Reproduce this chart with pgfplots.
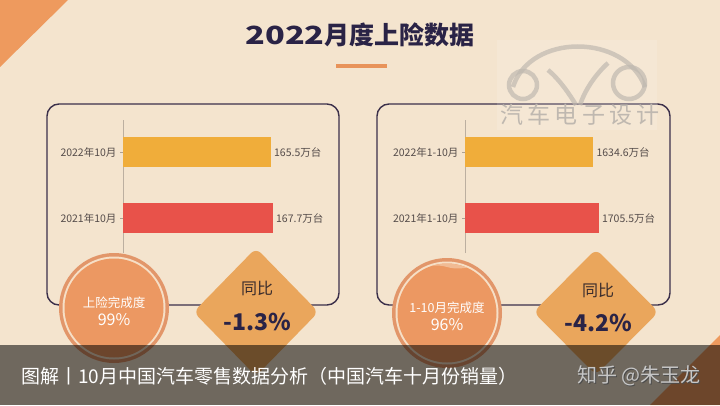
\documentclass[border=0pt]{standalone}
\usepackage{fontspec}
\usepackage{pgfplots}
\pgfplotsset{compat=1.18}
\usepackage{graphicx}
\setmainfont{Noto Sans CJK SC}
\newfontfamily\cjk{Noto Sans CJK SC}
\newfontfamily\cjkwm[LetterSpace=18]{Noto Sans CJK SC}
\definecolor{bg}{HTML}{F4E4CE}
\definecolor{tri}{HTML}{EE9A5E}
\definecolor{navy}{HTML}{2A2346}
\definecolor{frame}{HTML}{3B2F4A}
\definecolor{uline}{HTML}{E8935A}
\definecolor{barY}{HTML}{F0AD3A}
\definecolor{barR}{HTML}{E8524A}
\definecolor{lab}{HTML}{554C4A}
\definecolor{diam}{HTML}{EAA65C}
\definecolor{circ}{HTML}{EC9862}
\definecolor{ring}{HTML}{E2966A}
\definecolor{cream}{HTML}{F6DFC6}
\definecolor{wm}{HTML}{BFB8B0}
\definecolor{brown}{HTML}{3A2C2C}
\pgfplotsset{
  hbars/.style={
    xbar, scale only axis, height=133pt,
    ymin=0.47, ymax=2.485, xmin=0,
    axis x line=none, axis y line*=left,
    y axis line style={draw=lab!35!bg, line width=0.8pt},
    xtick=\empty, ytick={1,2},
    ytick style={draw=lab!45!bg, line width=0.6pt},
    major tick length=3pt, tick align=outside,
    yticklabel style={font=\cjk\fontsize{10.5}{12}\selectfont, text=lab},
    bar width=30pt, bar shift=0pt, clip=false,
    nodes near coords={\pgfmathprintnumber{\pgfplotspointmeta}万台},
    nodes near coords style={font=\cjk\fontsize{10.5}{12}\selectfont, text=lab, anchor=west, xshift=1pt, inner sep=2pt},
    /pgf/number format/.cd, fixed, fixed zerofill, precision=1, 1000 sep={}, assume math mode=true
  }
}
\begin{document}
\begin{tikzpicture}[x=1pt,y=1pt]
\useasboundingbox (0,0) rectangle (720,405);
\fill[bg] (0,0) rectangle (720,405);
\fill[tri] (0,405) -- (68,405) -- (0,338) -- cycle;
\fill[tri] (650,0) -- (720,0) -- (720,70) -- cycle;
% title
\node[font=\cjk\bfseries\fontsize{25}{28}\selectfont, text=navy] at (360,370) {\scalebox{1.3}[1]{2022}月度上险数据};
\fill[uline] (336,336.5) rectangle (387,340.5);
% panels
\draw[frame, line width=1.4pt, rounded corners=12pt] (47,100) rectangle (339,301);
\draw[frame, line width=1.4pt, rounded corners=12pt] (377,100) rectangle (670,301);
% left chart
\begin{axis}[hbars, at={(123pt,152pt)}, anchor=south west, width=178.8pt, xmax=200,
  yticklabels={2021年10月,2022年10月}]
\addplot[fill=barY, draw=none] coordinates {(165.5,2)};
\addplot[fill=barR, draw=none] coordinates {(167.7,1)};
\end{axis}
% right chart
\begin{axis}[hbars, at={(465pt,152pt)}, anchor=south west, width=157pt, xmax=2000,
  yticklabels={2021年1-10月,2022年1-10月}]
\addplot[fill=barY, draw=none] coordinates {(1634.6,2)};
\addplot[fill=barR, draw=none] coordinates {(1705.5,1)};
\end{axis}
% watermark
\fill[white, opacity=0.14] (497,275) rectangle (657,365);
\begin{scope}[wm, line width=4.5pt, opacity=0.7]
\draw (513,318) .. controls (530,372) and (625,372) .. (645,318);
\draw (523,320) circle (14);
\draw (629,322) circle (16);
\draw (548,335) .. controls (560,325) and (570,310) .. (576,300);
\draw (608,342) .. controls (595,330) and (585,315) .. (580,300);
\end{scope}
\node[font=\cjkwm\fontsize{23}{26}\selectfont, text=wm] at (580,290) {汽车电子设计};
% left circle
\fill[ring] (114,97) circle (55);
\fill[cream] (114,97) circle (51.5);
\fill[circ] (114,97) circle (49.5);
\node[font=\cjk\fontsize{12.5}{14}\selectfont, text=white] at (114,102) {上险完成度};
\node[font=\cjk\fontsize{16}{18}\selectfont, text=white] at (114,85) {99\%};
% right circle
\fill[ring] (447,92) circle (55);
\fill[cream] (447,92) circle (51.5);
\fill[circ] (447,92) circle (49.5);
\begin{scope}
\clip (447,92) circle (49.5);
\fill[cream!50!circ] (397,138) .. controls (415,133) and (430,143) .. (447,138) .. controls (464,133) and (479,143) .. (497,138) -- (497,150) -- (397,150) -- cycle;
\end{scope}
\node[font=\cjk\fontsize{12.5}{14}\selectfont, text=white] at (447,97) {1-10月完成度};
\node[font=\cjk\fontsize{16}{18}\selectfont, text=white] at (447,80) {96\%};
% diamonds
\fill[diam, rounded corners=7pt] (256,157) -- (318.5,93) -- (256,29) -- (193.5,93) -- cycle;
\fill[diam, rounded corners=7pt] (596,156) -- (658.5,93) -- (596,30) -- (533.5,93) -- cycle;
\node[font=\cjk\fontsize{16}{18}\selectfont, text=brown] at (257,117) {同比};
\node[font=\cjk\bfseries\fontsize{23}{26}\selectfont, text=navy] at (257,83) {-1.3\%};
\node[font=\cjk\fontsize{16}{18}\selectfont, text=brown] at (598,115) {同比};
\node[font=\cjk\bfseries\fontsize{23}{26}\selectfont, text=navy] at (598,82) {-4.2\%};
% overlay
\fill[black, opacity=0.54] (0,0) rectangle (720,60);
\node[anchor=west, font=\cjk\fontsize{19}{22}\selectfont, text=white, inner sep=0pt] at (21,29) {图解丨10月中国汽车零售数据分析（中国汽车十月份销量）};
\node[anchor=east, font=\cjk\fontsize{20}{22}\selectfont, text=black!70, inner sep=0pt] at (701.8,28.2) {知乎 @朱玉龙};
\node[anchor=east, font=\cjk\fontsize{20}{22}\selectfont, text=white!55!gray, inner sep=0pt] at (701,29) {知乎 @朱玉龙};
\end{tikzpicture}
\end{document}
